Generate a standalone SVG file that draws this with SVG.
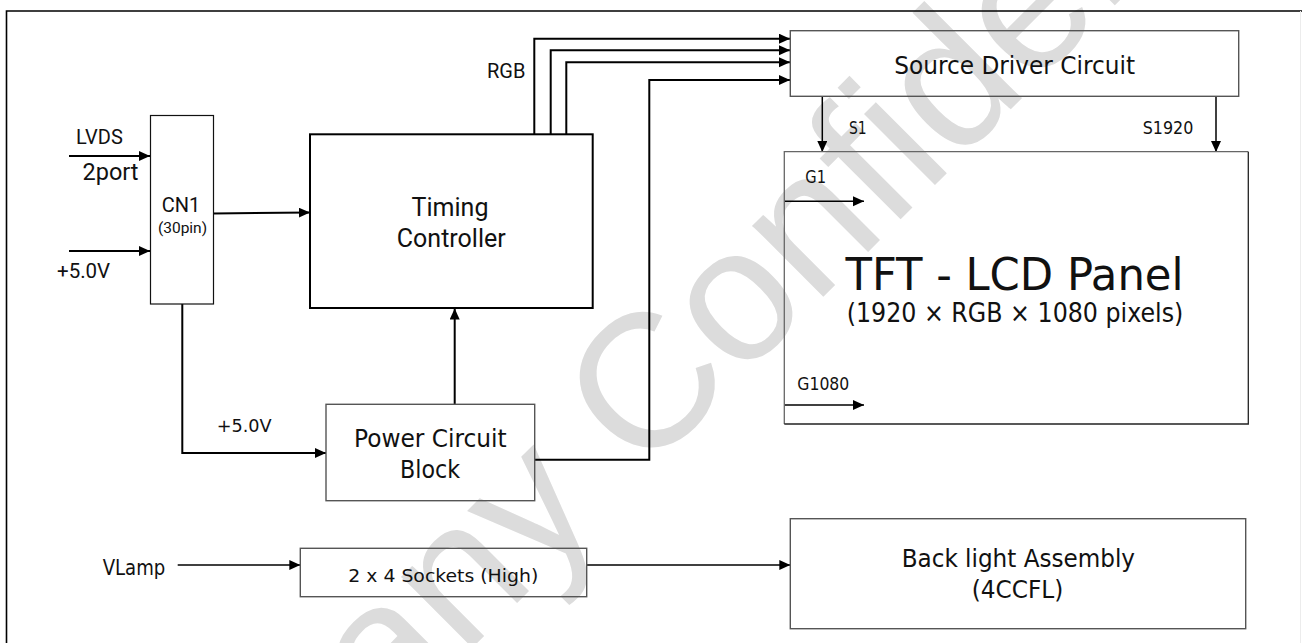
<svg xmlns="http://www.w3.org/2000/svg" width="1302" height="643" viewBox="0 0 1302 643">
<style>
.bg{fill:#ffffff}
.wm{font-family:"Liberation Sans",Arial,sans-serif;font-size:190px;fill:#dcdcdc}
.r{font-family:Roboto,"Liberation Sans",sans-serif;fill:#111}
.t{font-family:Tahoma,"DejaVu Sans Condensed","DejaVu Sans",sans-serif;fill:#111}
.box{fill:none;stroke:#111;stroke-width:1.2}
.boxg{fill:none;stroke:#555;stroke-width:1.4}
.w{fill:none;stroke:#000;stroke-width:2}
.wt{fill:none;stroke:#000;stroke-width:1.5}
</style>
<defs>
<marker id="ah" markerUnits="userSpaceOnUse" markerWidth="12" markerHeight="11" refX="11" refY="5" orient="auto">
<path d="M0,0 L11,5 L0,10 z" fill="#000"/>
</marker>
</defs>
<rect class="bg" x="0" y="0" width="1302" height="643"/>
<g id="watermark">
<text class="wm" transform="translate(30,1090) rotate(-45)" x="0" y="0">Company Confidential</text>
</g>
<g id="frame">
<path d="M6.5,643 L6.5,11 L1302,11" fill="none" stroke="#000" stroke-width="1.6"/>
<line x1="1300.5" y1="11" x2="1300.5" y2="643" stroke="#ececec" stroke-width="1"/>
</g>
<g id="connectors">
<line class="w" x1="69" y1="156" x2="150" y2="156" marker-end="url(#ah)"/>
<line class="w" x1="69" y1="251" x2="150" y2="251" marker-end="url(#ah)"/>
<line class="w" x1="213.5" y1="213.5" x2="310" y2="212.5" marker-end="url(#ah)"/>
<path class="w" d="M182.3,304 L182.3,453 L326,453" marker-end="url(#ah)"/>
<line class="w" x1="454.7" y1="404" x2="454.7" y2="308.5" marker-end="url(#ah)"/>
<path class="w" d="M534.3,134 L534.3,38.7 L790,38.7" marker-end="url(#ah)"/>
<path class="w" d="M550.7,134 L550.7,50.3 L790,50.3" marker-end="url(#ah)"/>
<path class="w" d="M566.3,134 L566.3,62.3 L790,62.3" marker-end="url(#ah)"/>
<path class="w" d="M534.7,459.7 L649.3,459.7 L649.3,80 L790,80" marker-end="url(#ah)"/>
<line class="wt" x1="822.3" y1="96.3" x2="822.3" y2="152" marker-end="url(#ah)"/>
<line class="wt" x1="1216" y1="96.3" x2="1216" y2="152" marker-end="url(#ah)"/>
<line class="wt" x1="784.3" y1="201.3" x2="864" y2="201.3" marker-end="url(#ah)"/>
<line class="wt" x1="784.3" y1="405" x2="864" y2="405" marker-end="url(#ah)"/>
<line class="wt" x1="177.7" y1="565" x2="300.3" y2="565" marker-end="url(#ah)"/>
<line class="wt" x1="586.7" y1="565" x2="790.3" y2="565" marker-end="url(#ah)"/>
</g>
<g id="labels">
<text class="r" x="76" y="144" font-size="20">LVDS</text>
<text class="r" x="82.5" y="180" font-size="23.5">2port</text>
<text class="r" x="57" y="278" font-size="20.5">+5.0V</text>
<text class="r" x="487" y="78" font-size="20">RGB</text>
<text class="t" x="216.7" y="431.7" font-size="18.5" textLength="55" lengthAdjust="spacingAndGlyphs">+5.0V</text>
<text class="t" x="102.7" y="575.3" font-size="21" textLength="62.6" lengthAdjust="spacingAndGlyphs">VLamp</text>
<text class="t" x="849" y="133.7" font-size="18" textLength="17.7" lengthAdjust="spacingAndGlyphs">S1</text>
<text class="t" x="1142.7" y="133.7" font-size="18" textLength="50.6" lengthAdjust="spacingAndGlyphs">S1920</text>
<text class="t" x="805.3" y="182.7" font-size="17.5" textLength="20.7" lengthAdjust="spacingAndGlyphs">G1</text>
<text class="t" x="797.3" y="390" font-size="17.5" textLength="52" lengthAdjust="spacingAndGlyphs">G1080</text>
</g>
<g id="cn1">
<rect class="box" x="150.5" y="115.5" width="63" height="188.5"/>
<text class="r" x="181" y="212" font-size="20" text-anchor="middle">CN1</text>
<text class="r" x="182.5" y="233" font-size="15.5" text-anchor="middle">(30pin)</text>
</g>
<g id="timing-controller">
<rect x="310" y="134.3" width="282.7" height="173.7" fill="none" stroke="#000" stroke-width="2"/>
<text class="r" x="450" y="215.7" font-size="25" text-anchor="middle">Timing</text>
<text class="r" x="451.3" y="246.7" font-size="25" text-anchor="middle">Controller</text>
</g>
<g id="source-driver">
<rect class="boxg" x="790.3" y="30.7" width="448.4" height="65.6"/>
<text class="t" x="894.3" y="74" font-size="24" textLength="240.7" lengthAdjust="spacingAndGlyphs">Source Driver Circuit</text>
</g>
<g id="tft-panel">
<path d="M784.3,424 L784.3,151.7 L1248.3,151.7" fill="none" stroke="#666" stroke-width="1.3"/>
<path d="M1248.3,151.7 L1248.3,424 L784.3,424" fill="none" stroke="#222" stroke-width="1.3"/>
<text class="t" x="845.5" y="290" font-size="44" textLength="338" lengthAdjust="spacingAndGlyphs">TFT - LCD Panel</text>
<text class="t" x="846.7" y="321.7" font-size="27" textLength="336.6" lengthAdjust="spacingAndGlyphs">(1920 × RGB × 1080 pixels)</text>
</g>
<g id="power-circuit">
<rect class="boxg" x="326" y="404.3" width="208.7" height="96.4"/>
<text class="t" x="354" y="446.7" font-size="25" textLength="152.7" lengthAdjust="spacingAndGlyphs">Power Circuit</text>
<text class="t" x="400" y="478.3" font-size="25" textLength="60" lengthAdjust="spacingAndGlyphs">Block</text>
</g>
<g id="sockets">
<rect class="boxg" x="300.3" y="548.3" width="286.4" height="48.4"/>
<text class="t" x="348.3" y="581.7" font-size="18.5" textLength="190" lengthAdjust="spacingAndGlyphs">2 x 4 Sockets (High)</text>
</g>
<g id="backlight">
<rect class="boxg" x="790.3" y="518.7" width="455.4" height="110"/>
<text class="t" x="901.7" y="566.7" font-size="25" textLength="233.3" lengthAdjust="spacingAndGlyphs">Back light Assembly</text>
<text class="t" x="971.7" y="598.3" font-size="25" textLength="91.6" lengthAdjust="spacingAndGlyphs">(4CCFL)</text>
</g>
</svg>
